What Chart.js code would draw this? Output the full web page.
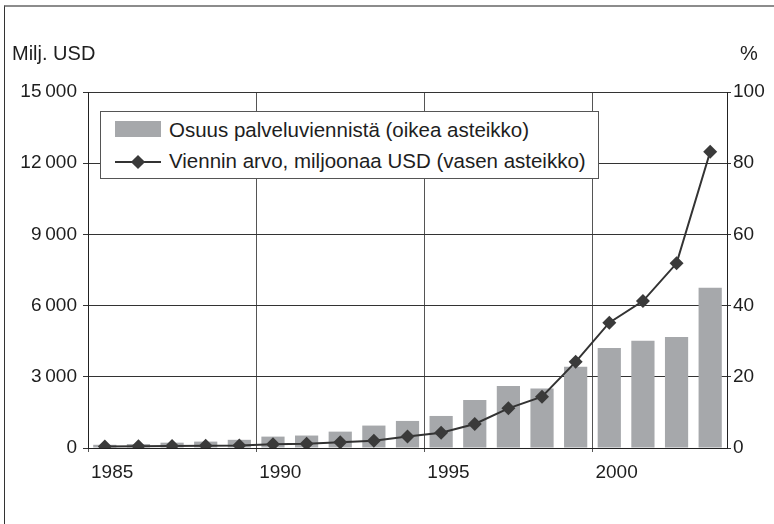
<!DOCTYPE html>
<html>
<head>
<meta charset="utf-8">
<script src="https://cdn.jsdelivr.net/npm/chart.js@4"></script>
<style>
  body { margin: 0; background: #fff; font-family: 'Liberation Sans', Arial, sans-serif; color: #1e1e1e; }
  #wrap { position: relative; width: 774px; height: 524px; overflow: hidden; }
  #frame { position: absolute; left: 4px; top: 5px; width: 900px; height: 600px;
           border-left: 1px solid #333; border-top: 2px solid #8c8c8c; }
  canvas { position: absolute; left: 0; top: 0; }
  .lbl { position: absolute; font-size: 20px; line-height: 20px; white-space: nowrap; }
  #legend { position: absolute; left: 100px; top: 111px; width: 497px; height: 66px;
            border: 1px solid #555; background: #fff; font-size: 20.5px; }
  #legend .row { position: absolute; left: 68px; white-space: nowrap; line-height: 20px; }
  #legend .sw { position: absolute; left: 14px; top: 9px; width: 46px; height: 16px; background: #a6a8ab; }
  #legend .ln { position: absolute; left: 14px; top: 49px; width: 46px; height: 2px; background: #333; }
  #legend .dm { position: absolute; left: 32px; top: 45px; width: 10px; height: 10px; background: #3a3a3a;
                transform: rotate(45deg); }
</style>
</head>
<body>
<div id="wrap">
  <div id="frame"></div>
  <canvas id="chart" width="774" height="524"></canvas>
  <div class="lbl" style="left:12px; top:43px;">Milj. USD</div>
  <div class="lbl" style="left:740px; top:43px;">%</div>
  <div id="legend">
    <div class="sw"></div>
    <div class="row" style="top:8px;">Osuus palveluviennistä (oikea asteikko)</div>
    <div class="ln"></div>
    <div class="dm"></div>
    <div class="row" style="top:39px;">Viennin arvo, miljoonaa USD (vasen asteikko)</div>
  </div>
</div>
<script>
// vuodet 1985-2003
const years = ['1985','1986','1987','1988','1989','1990','1991','1992','1993','1994',
  '1995','1996','1997','1998','1999','2000','2001','2002','2003'];
// viennin arvo, milj. USD (vasen asteikko)
const exportValue = [60, 70, 80, 100, 110, 160, 180, 240, 310, 480,
  640, 1010, 1670, 2160, 3630, 5280, 6190, 7780, 12480];
// osuus palveluviennistä, % (oikea asteikko)
const sharePct = [0.9, 1.1, 1.5, 1.8, 2.3, 3.2, 3.5, 4.6, 6.3, 7.6,
  9.0, 13.5, 17.4, 16.7, 22.8, 28.1, 30.1, 31.2, 45.0];
const yearTicks = [1985, 1990, 1995, 2000];
const leftTicks = [0, 3000, 6000, 9000, 12000, 15000];
const rightTicks = [0, 20, 40, 60, 80, 100];

Chart.defaults.font.family = "'Liberation Sans', Arial, sans-serif";
Chart.defaults.font.size = 19;
Chart.defaults.color = '#1e1e1e';

const fmt = v => {
  const s = String(v);
  return s.length > 3 ? s.slice(0, s.length - 3) + '\u2009' + s.slice(-3) : s;
};

new Chart(document.getElementById('chart'), {
  type: 'bar',
  data: {
    labels: years,
    datasets: [
      {
        type: 'line',
        label: 'Viennin arvo, miljoonaa USD (vasen asteikko)',
        data: exportValue,
        yAxisID: 'y',
        borderColor: '#333',
        borderWidth: 2,
        pointStyle: 'rectRot',
        pointRadius: 7,
        pointBackgroundColor: '#3a3a3a',
        pointBorderColor: '#3a3a3a',
        pointBorderWidth: 0,
        tension: 0,
        order: 0
      },
      {
        label: 'Osuus palveluviennistä (oikea asteikko)',
        data: sharePct,
        yAxisID: 'y1',
        backgroundColor: '#a6a8ab',
        barPercentage: 0.69,
        categoryPercentage: 1,
        order: 1
      }
    ]
  },
  options: {
    responsive: false,
    animation: false,
    layout: { padding: { top: 92, left: 0, right: 0, bottom: 0 } },
    plugins: { legend: { display: false }, tooltip: { enabled: false } },
    scales: {
      x: { display: false, offset: true },
      x2: {
        type: 'linear',
        position: 'bottom',
        min: 1985,
        max: 2004,
        offset: false,
        afterBuildTicks: s => { s.ticks = yearTicks.map(v => ({ value: v })); },
        afterFit: s => { s.height = 76; },
        grid: { offset: false, color: '#555', lineWidth: 1, tickLength: 4 },
        border: { color: '#222', width: 1 },
        ticks: { align: 'start', labelOffset: 3, padding: 9, maxRotation: 0,
                 callback: v => String(v) }
      },
      y: {
        position: 'left',
        min: 0,
        max: 15000,
        afterBuildTicks: s => { s.ticks = leftTicks.map(v => ({ value: v })); },
        afterFit: s => { s.width = 88; },
        grid: { color: '#333', lineWidth: 1, tickLength: 5 },
        border: { color: '#222', width: 1 },
        ticks: { padding: 6, callback: v => fmt(v) }
      },
      y1: {
        position: 'right',
        min: 0,
        max: 100,
        afterBuildTicks: s => { s.ticks = rightTicks.map(v => ({ value: v })); },
        afterFit: s => { s.width = 47; },
        grid: { drawOnChartArea: false, color: '#333', tickLength: 4 },
        border: { color: '#222', width: 1 },
        ticks: { padding: 2 }
      }
    }
  }
});
</script>
</body>
</html>
